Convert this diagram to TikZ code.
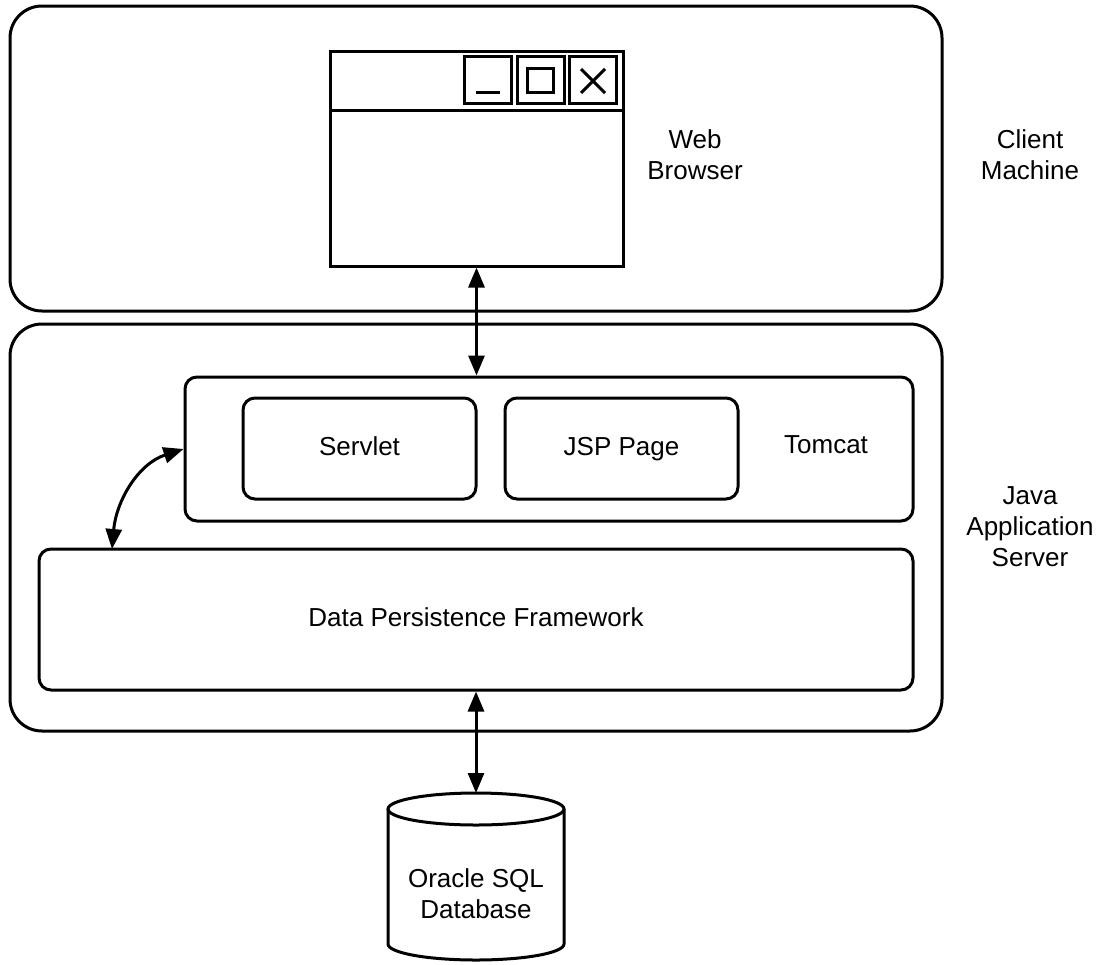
\documentclass[tikz,border=0pt]{standalone}
\usepackage{fontspec}
\setmainfont{Liberation Sans}
\usetikzlibrary{arrows.meta}
\begin{document}
\begin{tikzpicture}[x=1pt,y=-1pt,
  line width=3pt,
  outerbox/.style={draw,rectangle,rounded corners=32pt,inner sep=0pt},
  innerbox/.style={draw,rectangle,rounded corners=12pt,inner sep=0pt,font=\fontsize{26}{31}\selectfont,text height=19pt,text depth=5.5pt},
  plainbox/.style={draw,rectangle,inner sep=0pt},
  lbl/.style={align=center,font=\fontsize{26}{31}\selectfont,inner sep=0pt},
  conn/.style={line width=3pt,{Triangle[length=20pt,width=16pt]}-{Triangle[length=20pt,width=16pt]}}
]
\useasboundingbox (0,0) rectangle (1099,964);
% outer groups
\node[outerbox,minimum width=932pt,minimum height=305pt] (client) at (476,158.5) {};
\node[outerbox,minimum width=932pt,minimum height=407pt] (server) at (476,527.5) {};
% browser window
\node[plainbox,minimum width=293pt,minimum height=215pt] (browser) at (476.5,158.5) {};
\draw (330,110) -- (623,110);
\node[plainbox,minimum width=47pt,minimum height=47pt] (minbtn) at (488,80) {};
\node[plainbox,minimum width=47pt,minimum height=47pt] (maxbtn) at (540.5,80) {};
\node[plainbox,minimum width=47pt,minimum height=47pt] (closebtn) at (592.5,80) {};
\draw (476,92) -- (500,92);
\draw (527,68) rectangle (553,92);
\draw (581,69) -- (605,93) (605,69) -- (581,93);
% labels
\node[lbl] (wb) at (695,155) {Web\\Browser};
\node[lbl] (cm) at (1030,155) {Client\\Machine};
\node[lbl] (jas) at (1030,527) {Java\\Application\\Server};
% tomcat
\node[innerbox,minimum width=728pt,minimum height=144pt] (tomcat) at (549,449) {};
\node[innerbox,minimum width=233pt,minimum height=101pt] (servlet) at (359.5,448.5) {Servlet};
\node[innerbox,minimum width=233pt,minimum height=101pt] (jsp) at (621.5,448.5) {JSP Page};
\node[lbl] (tomcatlbl) at (826,445) {Tomcat};
% data persistence
\node[innerbox,minimum width=874pt,minimum height=141pt] (dpf) at (476,619.5) {Data Persistence Framework};
\coordinate (dpfin) at (112,549);
% database cylinder
\fill[white] (388,809) -- (388,944) arc[start angle=180,end angle=360,x radius=88pt,y radius=16pt] -- (564,809) -- cycle;
\draw (388,809) -- (388,944) arc[start angle=180,end angle=360,x radius=88pt,y radius=16pt] -- (564,809);
\draw (476,809) ellipse [x radius=88pt,y radius=16pt];
\coordinate (dbtop) at (476,793);
\node[lbl] (db) at (476,894) {Oracle SQL\\Database};
% connectors
\draw[conn] (browser.south) -- (browser.south |- tomcat.north);
\draw[conn] (dpf.south) -- (dbtop);
\draw[conn] (tomcat.west) to[out=198,in=85] (dpfin);
\end{tikzpicture}
\end{document}
